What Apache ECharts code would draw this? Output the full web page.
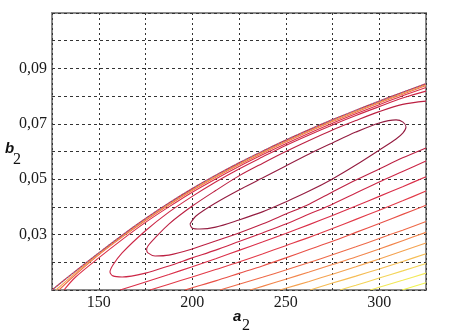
<!DOCTYPE html>
<html><head><meta charset="utf-8">
<script src="https://cdn.jsdelivr.net/npm/echarts/dist/echarts.min.js"></script>
<style>html,body{margin:0;padding:0;background:#fff}#c{width:456px;height:336px}</style>
</head><body><div id="c"></div>
<script>
// axis ticks
const xTickLabels = [150, 200, 250, 300];
const yTickValues = [0.03, 0.05, 0.07, 0.09];
const yTickLabels = ['0,03', '0,05', '0,07', '0,09'];

// edge of the admissible region
const boundary = [[125,0.0100],[137.5,0.0168],[150,0.0234],[162.5,0.0298],[175,0.0358],[187.5,0.0414],[200,0.0466],[212.5,0.0514],[225,0.0559],[237.5,0.0601],[250,0.0641],[262.5,0.0679],[275,0.0715],[287.5,0.0749],[300,0.0782],[312.5,0.0814],[325,0.0845]];

// contour lines, innermost first
const level1 = [[198.8,0.0338],[202.0,0.0367],[212.5,0.0414],[225,0.0461],[237.5,0.0504],[250,0.0548],[262.5,0.0591],[275,0.0631],[287.5,0.0670],[300,0.0703],[309.0,0.0714],[312.7,0.0706],[314.3,0.0688],[312.7,0.0667],[309.0,0.0645],[300,0.0605],[287.5,0.0551],[275,0.0501],[262.5,0.0457],[250,0.0418],[237.5,0.0382],[225,0.0353],[212.5,0.0327],[204.1,0.0320],[199.9,0.0324],[198.8,0.0338]];
const level2 = [[325,0.0782],[312.5,0.0770],[300,0.0744],[287.5,0.0712],[275,0.0678],[262.5,0.0640],[250,0.0600],[237.5,0.0557],[225,0.0512],[212.5,0.0459],[200,0.0403],[187.5,0.0338],[180.1,0.0288],[176.3,0.0259],[175.6,0.0246],[176.3,0.0234],[180.1,0.0223],[187.5,0.0226],[200,0.0248],[212.5,0.0277],[225,0.0306],[237.5,0.0338],[250,0.0374],[262.5,0.0410],[275,0.0454],[287.5,0.0497],[300,0.0537],[312.5,0.0577],[325,0.0613]];
const level3 = [[325,0.0818],[312.5,0.0793],[300,0.0762],[287.5,0.0730],[275,0.0696],[262.5,0.0660],[250,0.0622],[237.5,0.0580],[225,0.0537],[212.5,0.0490],[200,0.0438],[187.5,0.0381],[175,0.0314],[162.5,0.0234],[157.6,0.0190],[156.0,0.0165],[157.6,0.0151],[162.5,0.0147],[175,0.0161],[187.5,0.0187],[200,0.0216],[212.5,0.0244],[225,0.0275],[237.5,0.0306],[250,0.0338],[262.5,0.0374],[275,0.0410],[287.5,0.0450],[300,0.0490],[312.5,0.0528],[325,0.0566]];
const level4 = [[161.4,0.0100],[175,0.0129],[187.5,0.0156],[200,0.0184],[212.5,0.0213],[225,0.0243],[237.5,0.0273],[250,0.0304],[262.5,0.0336],[275,0.0369],[287.5,0.0403],[300,0.0438],[312.5,0.0473],[325,0.0509]];
const level4Upper = [[131.4,0.0100],[137.5,0.0146],[150,0.0216],[162.5,0.0282],[175,0.0344],[187.5,0.0400],[200,0.0453],[212.5,0.0501],[225,0.0546],[237.5,0.0588],[250,0.0628],[262.5,0.0666],[275,0.0702],[287.5,0.0736],[300,0.0769],[312.5,0.0801],[325,0.0831]];
const level5 = [[177.4,0.0100],[187.5,0.0121],[200,0.0147],[212.5,0.0174],[225,0.0201],[237.5,0.0230],[250,0.0260],[262.5,0.0290],[275,0.0322],[287.5,0.0355],[300,0.0388],[312.5,0.0422],[325,0.0457]];
const level5Upper = [[128.7,0.0100],[137.5,0.0155],[150,0.0227],[162.5,0.0291],[175,0.0351],[187.5,0.0407],[200,0.0459],[212.5,0.0507],[225,0.0552],[237.5,0.0594],[250,0.0634],[262.5,0.0672],[275,0.0708],[287.5,0.0742],[300,0.0775],[312.5,0.0807],[325,0.0838]];
const level6 = [[196.1,0.0100],[200,0.0108],[212.5,0.0133],[225,0.0160],[237.5,0.0187],[250,0.0216],[262.5,0.0246],[275,0.0276],[287.5,0.0308],[300,0.0340],[312.5,0.0373],[325,0.0406]];
const level6Upper = [[127.1,0.0100],[137.5,0.0161],[150,0.0230],[162.5,0.0294],[175,0.0354],[187.5,0.0410],[200,0.0462],[212.5,0.0510],[225,0.0555],[237.5,0.0597],[250,0.0637],[262.5,0.0675],[275,0.0711],[287.5,0.0745],[300,0.0778],[312.5,0.0810],[325,0.0841]];
const level7 = [[214.8,0.0100],[225,0.0121],[237.5,0.0146],[250,0.0172],[262.5,0.0199],[275,0.0227],[287.5,0.0256],[300,0.0286],[312.5,0.0316],[325,0.0347]];
const level8 = [[230.9,0.0100],[237.5,0.0113],[250,0.0139],[262.5,0.0165],[275,0.0192],[287.5,0.0219],[300,0.0248],[312.5,0.0278],[325,0.0308]];
const level9 = [[246.9,0.0100],[250,0.0106],[262.5,0.0131],[275,0.0157],[287.5,0.0184],[300,0.0212],[312.5,0.0241],[325,0.0270]];
const level10 = [[263.0,0.0100],[275,0.0125],[287.5,0.0150],[300,0.0176],[312.5,0.0203],[325,0.0231]];
const level11 = [[279.0,0.0100],[287.5,0.0117],[300,0.0143],[312.5,0.0169],[325,0.0196]];
const level12 = [[295.1,0.0100],[300,0.0110],[312.5,0.0135],[325,0.0161]];
const level13 = [[312.2,0.0100],[325,0.0126]];

const levels = [level1, level2, level3, level4, level5, level6, level7, level8, level9, level10, level11, level12, level13];
const uppers = [[level4Upper, 3], [level5Upper, 6], [level6Upper, 8]];
const colors = ['#941c40', '#bc2042', '#cc2646', '#da2e48', '#e23a48', '#e85046', '#ee6a48', '#f2864c', '#f4a250', '#f5bc54', '#f4d458', '#f2e858', '#f0f450'];

function line(data, color, width, type, z) {
  return { type: 'line', data: data, showSymbol: false, symbol: 'none', smooth: 0.3,
    lineStyle: { color: color, width: width, type: type || 'solid' }, silent: true, animation: false, z: z || 2 };
}
const series = [];
for (let i = levels.length - 1; i >= 0; i--) series.push(line(levels[i], colors[i], 1.1, 'solid', 2));
uppers.forEach(u => series.push(line(u[0], colors[u[1]], 1.1, 'solid', 3)));
series.push(line(boundary, '#c8304a', 1.2, 'solid', 4));
series.push(line(boundary, '#7c8fb2', 1.2, [1, 2], 5));

const chart = echarts.init(document.getElementById('c'), null, { renderer: 'canvas' });
const serif = '"Liberation Serif", "Times New Roman", serif';
chart.setOption({
  animation: false,
  backgroundColor: '#fff',
  grid: { left: 52, right: 30, top: 13, bottom: 46, show: true, borderColor: '#8a8a8a', borderWidth: 2, backgroundColor: 'transparent' },
  xAxis: {
    type: 'value', min: 125, max: 325, interval: 25,
    axisLine: { show: false }, axisTick: { show: false },
    splitLine: { show: true, lineStyle: { color: '#333', type: [2, 3], width: 1 } },
    axisLabel: { margin: 5, fontFamily: serif, fontSize: 16, color: '#1a1a1a',
      formatter: v => xTickLabels.includes(Math.round(v)) ? String(Math.round(v)) : '' }
  },
  yAxis: {
    type: 'value', min: 0.01, max: 0.11, interval: 0.01,
    axisLine: { show: false }, axisTick: { show: false },
    splitLine: { show: true, lineStyle: { color: '#333', type: [3, 3], width: 1 } },
    axisLabel: { margin: 5, fontFamily: serif, fontSize: 16, color: '#1a1a1a',
      formatter: v => { const k = yTickValues.findIndex(t => Math.abs(t - v) < 1e-6); return k >= 0 ? yTickLabels[k] : ''; } }
  },
  graphic: [
    { type: 'text', x: 5, y: 148.5, style: { text: 'b', font: 'italic bold 15px "Liberation Sans", Arial, sans-serif', fill: '#111', textAlign: 'left', textVerticalAlign: 'middle' } },
    { type: 'text', x: 13, y: 160, style: { text: '2', font: '16px "Liberation Serif", serif', fill: '#111', textAlign: 'left', textVerticalAlign: 'middle' } },
    { type: 'text', x: 233, y: 317, style: { text: 'a', font: 'italic bold 15px "Liberation Sans", Arial, sans-serif', fill: '#111', textAlign: 'left', textVerticalAlign: 'middle' } },
    { type: 'text', x: 242, y: 325.5, style: { text: '2', font: '16px "Liberation Serif", serif', fill: '#111', textAlign: 'left', textVerticalAlign: 'middle' } }
  ],
  series: series
});
</script>
</body></html>
